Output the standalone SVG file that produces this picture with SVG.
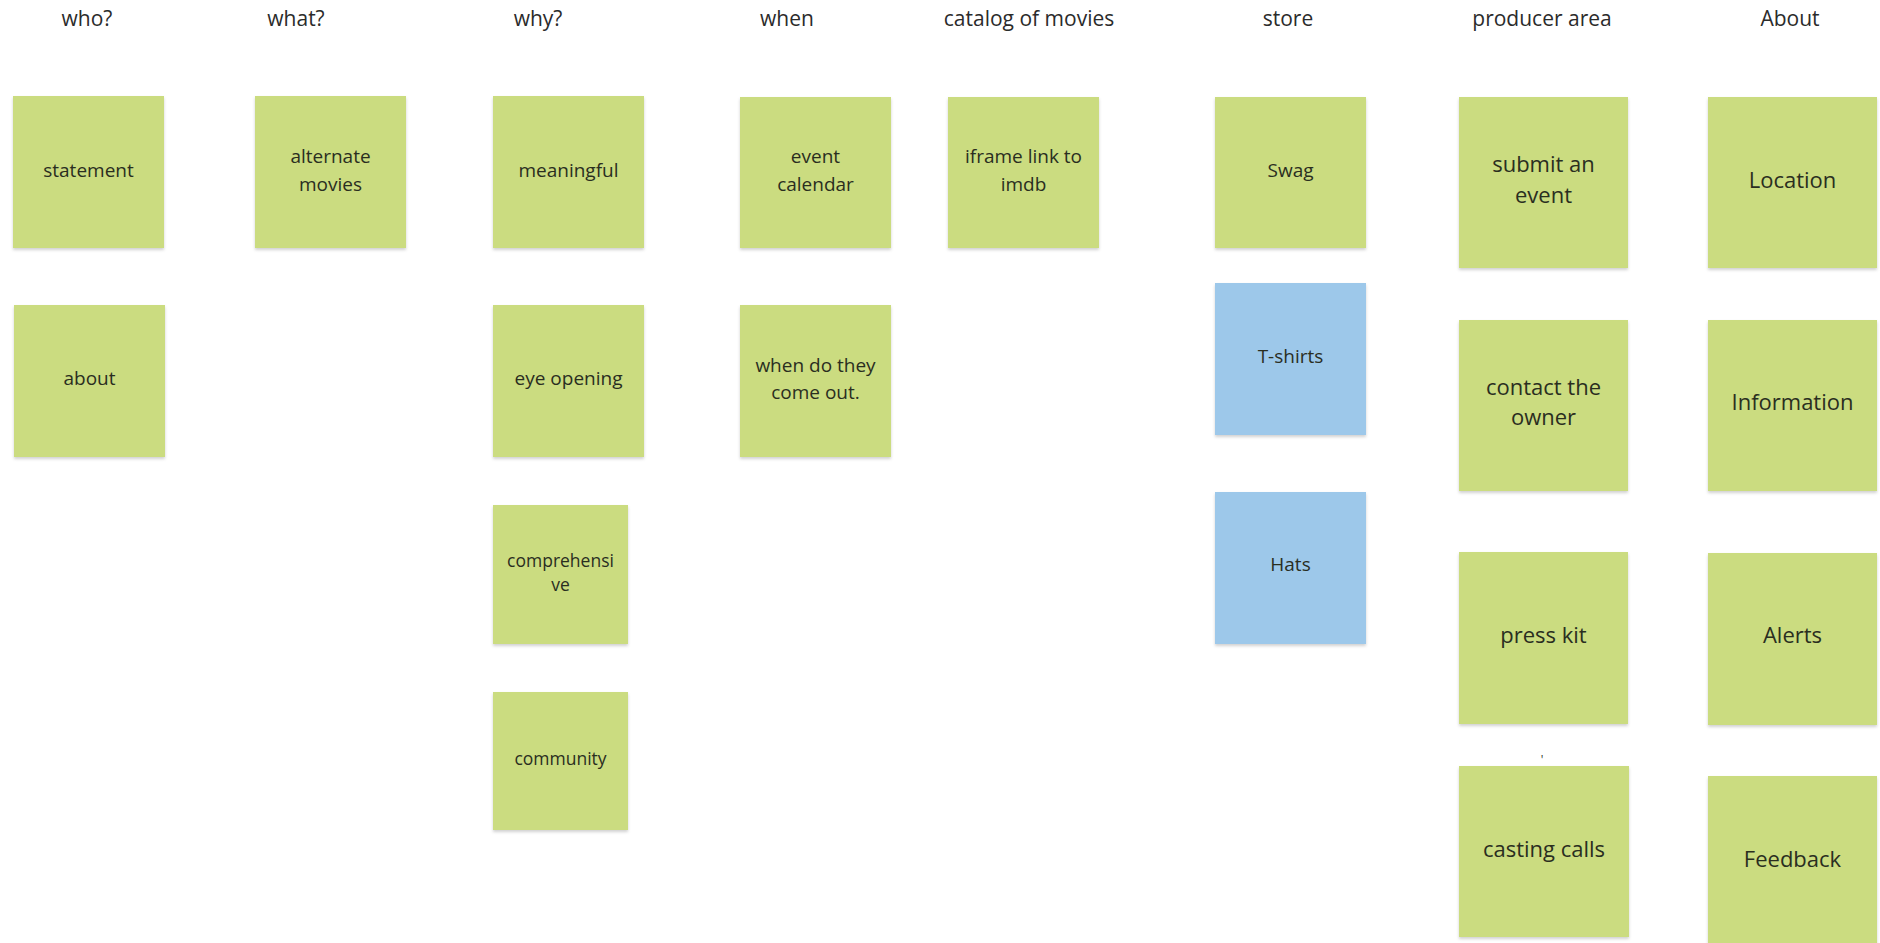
<svg xmlns="http://www.w3.org/2000/svg" width="1880" height="943" viewBox="0 0 1880 943">
  <style>
    .hdr { font-family: "Open Sans", "Liberation Sans", sans-serif; font-size: 21px; fill: #2b2b2b; text-anchor: middle; }
    .t { font-family: "Open Sans", "Liberation Sans", sans-serif; font-size: 19px; fill: #2a2e1f; text-anchor: middle; }
    .ts { font-size: 17.5px; }
    .tl { font-size: 22px; }
    .g { fill: #cbdc80; filter: url(#sh); }
    .b { fill: #9dc8ea; filter: url(#sh); }
  </style>
  <defs>
    <filter id="sh" x="-5%" y="-5%" width="110%" height="115%">
      <feDropShadow dx="0" dy="2" stdDeviation="1.5" flood-color="#000" flood-opacity="0.18"/>
    </filter>
  </defs>
  <rect width="1880" height="943" fill="#ffffff"/>

  <g id="headers">
    <text class="hdr" x="87" y="26">who?</text>
    <text class="hdr" x="296" y="26">what?</text>
    <text class="hdr" x="538" y="26">why?</text>
    <text class="hdr" x="787" y="26">when</text>
    <text class="hdr" x="1029" y="26">catalog of movies</text>
    <text class="hdr" x="1288" y="26">store</text>
    <text class="hdr" x="1542" y="26">producer area</text>
    <text class="hdr" x="1790" y="26">About</text>
  </g>

  <g id="connectors"></g>

  <g id="n-statement"><rect class="g" x="13" y="96" width="151" height="152"/><text class="t" x="88.5" y="177">statement</text></g>
  <g id="n-about"><rect class="g" x="14" y="305" width="151" height="152"/><text class="t" x="89.5" y="385">about</text></g>
  <g id="n-alternate"><rect class="g" x="255" y="96" width="151" height="152"/><text class="t" x="330.5" y="163">alternate</text><text class="t" x="330.5" y="191">movies</text></g>
  <g id="n-meaningful"><rect class="g" x="493" y="96" width="151" height="152"/><text class="t" x="568.5" y="177">meaningful</text></g>
  <g id="n-eye"><rect class="g" x="493" y="305" width="151" height="152"/><text class="t" x="568.5" y="385">eye opening</text></g>
  <g id="n-comprehensive"><rect class="g" x="493" y="505" width="135" height="139"/><text class="t ts" x="560.5" y="567">comprehensi</text><text class="t ts" x="560.5" y="591">ve</text></g>
  <g id="n-community"><rect class="g" x="493" y="692" width="135" height="138"/><text class="t ts" x="560.5" y="765">community</text></g>
  <g id="n-event-calendar"><rect class="g" x="740" y="97" width="151" height="151"/><text class="t" x="815.5" y="163">event</text><text class="t" x="815.5" y="191">calendar</text></g>
  <g id="n-when-out"><rect class="g" x="740" y="305" width="151" height="152"/><text class="t" x="815.5" y="372">when do they</text><text class="t" x="815.5" y="399">come out.</text></g>
  <g id="n-iframe"><rect class="g" x="948" y="97" width="151" height="151"/><text class="t" x="1023.5" y="163">iframe link to</text><text class="t" x="1023.5" y="191">imdb</text></g>
  <g id="n-swag"><rect class="g" x="1215" y="97" width="151" height="151"/><text class="t" x="1290.5" y="177">Swag</text></g>
  <g id="n-tshirts"><rect class="b" x="1215" y="283" width="151" height="152"/><text class="t" x="1290.5" y="363">T-shirts</text></g>
  <g id="n-hats"><rect class="b" x="1215" y="492" width="151" height="152"/><text class="t" x="1290.5" y="571">Hats</text></g>
  <g id="n-submit"><rect class="g" x="1459" y="97" width="169" height="171"/><text class="t tl" x="1543.5" y="172">submit an</text><text class="t tl" x="1543.5" y="203">event</text></g>
  <g id="n-contact"><rect class="g" x="1459" y="320" width="169" height="171"/><text class="t tl" x="1543.5" y="395">contact the</text><text class="t tl" x="1543.5" y="425">owner</text></g>
  <g id="n-presskit"><rect class="g" x="1459" y="552" width="169" height="172"/><text class="t tl" x="1543.5" y="643">press kit</text></g>
  <text class="t" x="1542" y="764" style="font-size:12px">'</text>
  <g id="n-casting"><rect class="g" x="1459" y="766" width="170" height="171"/><text class="t tl" x="1544" y="857">casting calls</text></g>
  <g id="n-location"><rect class="g" x="1708" y="97" width="169" height="171"/><text class="t tl" x="1792.5" y="188">Location</text></g>
  <g id="n-information"><rect class="g" x="1708" y="320" width="169" height="171"/><text class="t tl" x="1792.5" y="410">Information</text></g>
  <g id="n-alerts"><rect class="g" x="1708" y="553" width="169" height="172"/><text class="t tl" x="1792.5" y="643">Alerts</text></g>
  <g id="n-feedback"><rect class="g" x="1708" y="776" width="169" height="180"/><text class="t tl" x="1792.5" y="867">Feedback</text></g>
</svg>
